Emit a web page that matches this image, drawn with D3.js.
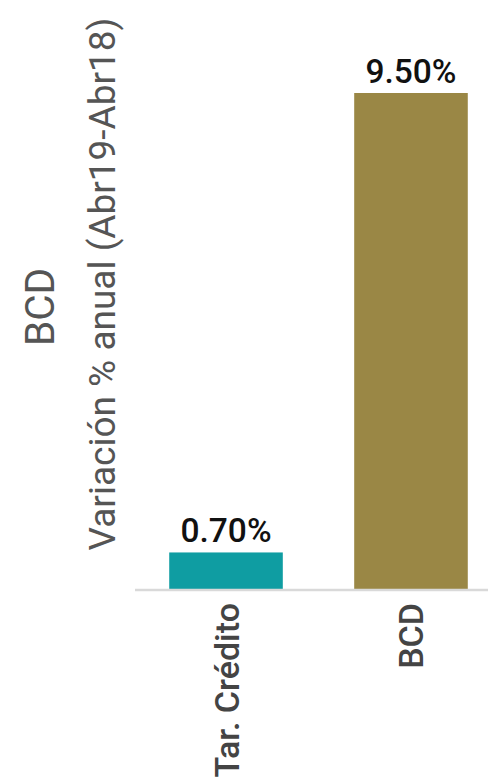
<!DOCTYPE html>
<html><head><meta charset="utf-8">
<script src="https://cdn.jsdelivr.net/npm/d3@7"></script>
<style>html,body{margin:0;padding:0;background:#fff;}</style>
</head><body>
<svg id="c" width="488" height="777"></svg>
<script>
const categories = ["Tar. Crédito", "BCD"];
const values = [0.70, 9.50];
const valueLabels = ["0.70%", "9.50%"];
const colors = ["#0f9da2", "#9a8745"];
const titleText = "BCD";
const subtitleText = "Variación % anual (Abr19-Abr18)";

const svg = d3.select("#c");
const W = 488, H = 777;
const base = 589;
const x = d3.scaleBand().domain(categories).range([135, 502]).paddingInner(0.386).paddingOuter(0.185);
const y = d3.scaleLinear().domain([0, 9.5]).range([base, 93]);

svg.selectAll("rect.bar").data(values).enter().append("rect")
  .attr("class","bar")
  .attr("x",(d,i)=>x(categories[i]))
  .attr("width",x.bandwidth())
  .attr("y",d=>y(d))
  .attr("height",d=>base-y(d))
  .attr("fill",(d,i)=>colors[i]);

svg.append("line").attr("x1",135).attr("x2",W).attr("y1",base+1).attr("y2",base+1)
  .attr("stroke","#d9d9d9").attr("stroke-width",2.5);

svg.selectAll("text.val").data(values).enter().append("text")
  .attr("class","val")
  .attr("x",(d,i)=>x(categories[i])+x.bandwidth()/2)
  .attr("y",d=>y(d)-10)
  .attr("text-anchor","middle")
  .attr("font-family","Roboto").attr("font-weight",500).attr("font-size",33.5)
  .attr("fill","#111")
  .text((d,i)=>valueLabels[i]);

svg.selectAll("text.cat").data(categories).enter().append("text")
  .attr("class","cat")
  .attr("transform",d=>`translate(${x(d)+x.bandwidth()/2+12.5},603) rotate(-90)`)
  .attr("text-anchor","end")
  .attr("font-family","Roboto").attr("font-weight",500).attr("font-size",34)
  .attr("fill","#444")
  .text(d=>d);

svg.append("text")
  .attr("transform","translate(54,307) rotate(-90)")
  .attr("text-anchor","middle")
  .attr("font-family","Roboto").attr("font-size",40.5)
  .attr("fill","#555")
  .text(titleText);
svg.append("text")
  .attr("transform","translate(115,284) rotate(-90)")
  .attr("text-anchor","middle")
  .attr("font-family","Roboto").attr("font-size",37)
  .attr("fill","#555")
  .text(subtitleText);
</script>
</body></html>
